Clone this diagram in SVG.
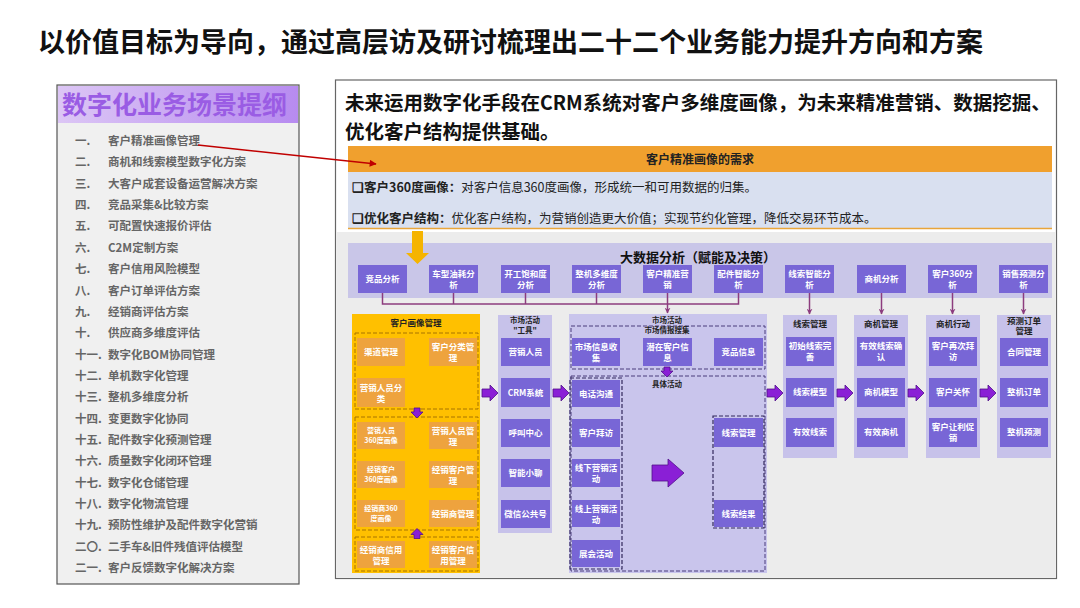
<svg xmlns="http://www.w3.org/2000/svg" width="1080" height="608" viewBox="0 0 1080 608">
<defs>
<style>
text{font-family:"Noto Sans CJK SC","Noto Sans CJK JP",sans-serif}
.li{font-size:11.5px;font-weight:bold;fill:#666}
.w{fill:#fff;font-size:8.5px;font-weight:bold;text-anchor:middle}
.ws{fill:#fff;font-size:7px;font-weight:bold;text-anchor:middle}
.ct{fill:#222;font-size:8.5px;font-weight:bold;text-anchor:middle}
.cs{fill:#222;font-size:7.5px;font-weight:bold;text-anchor:middle}
.pb{fill:#7866d6}
.ob{fill:#eea33e}
.lav{fill:#c7c2ea}
.dsh{fill:none;stroke:#4a3c7c;stroke-width:1;stroke-dasharray:4 2}
.ydsh{fill:none;stroke:#a87400;stroke-width:1;stroke-dasharray:4 2}
.conn{fill:none;stroke:#8c3c7e;stroke-width:1.5}
.blk{fill:#8a1fd6;stroke:#50108a;stroke-width:0.8}
</style>
<linearGradient id="hg" x1="0" y1="0" x2="1" y2="0">
<stop offset="0" stop-color="#dcc6f5"/>
<stop offset="1" stop-color="#b78bf0"/>
</linearGradient>
<marker id="ah" viewBox="0 0 10 10" refX="9" refY="5" markerWidth="6" markerHeight="6" orient="auto" markerUnits="userSpaceOnUse">
<path d="M0,0 L10,5 L0,10 L3,5 Z" fill="#8c3c7e"/>
</marker>
<marker id="rh" viewBox="0 0 10 10" refX="9" refY="5" markerWidth="9" markerHeight="7" orient="auto" markerUnits="userSpaceOnUse">
<path d="M0,0 L10,5 L0,10 Z" fill="#c00000"/>
</marker>
<path id="br" class="blk" d="M-8,-4 H0 V-8 L8,0 L0,8 V4 H-8 Z"/>
<path id="bd" class="blk" d="M-3,-5 H3 V-1 H6 L0,5 L-6,-1 H-3 Z"/>
</defs>

<rect width="1080" height="608" fill="#fff"/>

<text x="38" y="52" font-size="27" font-weight="bold" fill="#111">以价值目标为导向，通过高层访及研讨梳理出二十二个业务能力提升方向和方案</text>

<g id="outline">
<rect x="57" y="85" width="242" height="499" fill="#f0f0f0" stroke="#555" stroke-width="1.2"/>
<rect x="58" y="86" width="240" height="37" fill="url(#hg)"/>
<text x="62" y="114" font-size="25" font-weight="bold" fill="#9a5ce4">数字化业务场景提纲</text>
<text class="li" y="145"><tspan x="75">一.</tspan><tspan x="108">客户精准画像管理</tspan></text>
<text class="li" y="166.4"><tspan x="75">二.</tspan><tspan x="108">商机和线索模型数字化方案</tspan></text>
<text class="li" y="187.7"><tspan x="75">三.</tspan><tspan x="108">大客户成套设备运营解决方案</tspan></text>
<text class="li" y="209.1"><tspan x="75">四.</tspan><tspan x="108">竞品采集&amp;比较方案</tspan></text>
<text class="li" y="230.4"><tspan x="75">五.</tspan><tspan x="108">可配置快速报价评估</tspan></text>
<text class="li" y="251.8"><tspan x="75">六.</tspan><tspan x="108">C2M定制方案</tspan></text>
<text class="li" y="273.1"><tspan x="75">七.</tspan><tspan x="108">客户信用风险模型</tspan></text>
<text class="li" y="294.5"><tspan x="75">八.</tspan><tspan x="108">客户订单评估方案</tspan></text>
<text class="li" y="315.8"><tspan x="75">九.</tspan><tspan x="108">经销商评估方案</tspan></text>
<text class="li" y="337.2"><tspan x="75">十.</tspan><tspan x="108">供应商多维度评估</tspan></text>
<text class="li" y="358.5"><tspan x="75">十一.</tspan><tspan x="108">数字化BOM协同管理</tspan></text>
<text class="li" y="379.9"><tspan x="75">十二.</tspan><tspan x="108">单机数字化管理</tspan></text>
<text class="li" y="401.2"><tspan x="75">十三.</tspan><tspan x="108">整机多维度分析</tspan></text>
<text class="li" y="422.6"><tspan x="75">十四.</tspan><tspan x="108">变更数字化协同</tspan></text>
<text class="li" y="443.9"><tspan x="75">十五.</tspan><tspan x="108">配件数字化预测管理</tspan></text>
<text class="li" y="465.3"><tspan x="75">十六.</tspan><tspan x="108">质量数字化闭环管理</tspan></text>
<text class="li" y="486.6"><tspan x="75">十七.</tspan><tspan x="108">数字化仓储管理</tspan></text>
<text class="li" y="508"><tspan x="75">十八.</tspan><tspan x="108">数字化物流管理</tspan></text>
<text class="li" y="529.3"><tspan x="75">十九.</tspan><tspan x="108">预防性维护及配件数字化营销</tspan></text>
<text class="li" y="550.7"><tspan x="75">二〇.</tspan><tspan x="108">二手车&amp;旧件残值评估模型</tspan></text>
<text class="li" y="572"><tspan x="75">二一.</tspan><tspan x="108">客户反馈数字化解决方案</tspan></text>
</g>

<g id="panel">
<rect x="335.5" y="80" width="721" height="498.5" fill="#fff" stroke="#666" stroke-width="1.2"/>
<rect x="336.5" y="232" width="719" height="345.5" fill="#ececec"/>
<text x="345" y="110" font-size="19.5" font-weight="bold" fill="#111">未来运用数字化手段在CRM系统对客户多维度画像，为未来精准营销、数据挖掘、</text>
<text x="345" y="138.5" font-size="19.5" font-weight="bold" fill="#111">优化客户结构提供基础。</text>
</g>

<g id="demand">
<rect x="348" y="146" width="704" height="26" fill="#f0a02e"/>
<text x="700" y="163.5" font-size="12" font-weight="bold" fill="#222" text-anchor="middle">客户精准画像的需求</text>
<rect x="348" y="172" width="704" height="56" fill="#d9e0f0"/>
<line x1="348" y1="228.5" x2="1052" y2="228.5" stroke="#e9a53a" stroke-width="1.5"/>
<text x="352" y="192" font-size="12.5" fill="#222"><tspan font-weight="bold">❑客户360度画像：</tspan>对客户信息360度画像，形成统一和可用数据的归集。</text>
<text x="352" y="223" font-size="12.5" fill="#222"><tspan font-weight="bold">❑优化客户结构：</tspan>优化客户结构，为营销创造更大价值；实现节约化管理，降低交易环节成本。</text>
</g>

<g id="bigdata">
<rect x="348" y="243" width="704" height="55" fill="#c9c6e8"/>
<text x="698" y="261.5" font-size="13" font-weight="bold" fill="#111" text-anchor="middle">大数据分析（赋能及决策）</text>
</g>

<g id="yellow-arrow">
<path d="M412,231 H423 V253 H429 L417.5,264 L406,253 H412 Z" fill="#f5b400"/>
</g>

<g id="analysis">
<g id="a1"><rect class="pb" x="358" y="265" width="49" height="28"/><text class="w" x="382.5" y="282">竞品分析</text></g>
<g id="a2"><rect class="pb" x="429" y="265" width="49" height="28"/><text class="w" x="453.5" y="277">车型油耗分<tspan x="453.5" dy="11">析</tspan></text></g>
<g id="a3"><rect class="pb" x="501" y="265" width="49" height="28"/><text class="w" x="525.5" y="277">开工饱和度<tspan x="525.5" dy="11">分析</tspan></text></g>
<g id="a4"><rect class="pb" x="572" y="265" width="49" height="28"/><text class="w" x="596.5" y="277">整机多维度<tspan x="596.5" dy="11">分析</tspan></text></g>
<g id="a5"><rect class="pb" x="643" y="265" width="49" height="28"/><text class="w" x="667.5" y="277">客户精准营<tspan x="667.5" dy="11">销</tspan></text></g>
<g id="a6"><rect class="pb" x="714" y="265" width="49" height="28"/><text class="w" x="738.5" y="277">配件智能分<tspan x="738.5" dy="11">析</tspan></text></g>
<g id="a7"><rect class="pb" x="785" y="265" width="49" height="28"/><text class="w" x="809.5" y="277">线索智能分<tspan x="809.5" dy="11">析</tspan></text></g>
<g id="a8"><rect class="pb" x="857" y="265" width="49" height="28"/><text class="w" x="881.5" y="282">商机分析</text></g>
<g id="a9"><rect class="pb" x="928" y="265" width="49" height="28"/><text class="w" x="952.5" y="277">客户360分<tspan x="952.5" dy="11">析</tspan></text></g>
<g id="a10"><rect class="pb" x="999" y="265" width="49" height="28"/><text class="w" x="1023.5" y="277">销售预测分<tspan x="1023.5" dy="11">析</tspan></text></g>
</g>

<g id="portrait">
<rect x="352" y="314" width="128" height="259" fill="#ffc000"/>
<text class="ct" x="416" y="326">客户画像管理</text>
<rect class="ydsh" x="355" y="333" width="123" height="76"/>
<rect class="ydsh" x="355" y="417" width="123" height="113"/>
<rect class="ydsh" x="355" y="537" width="123" height="34"/>
<g id="p1"><rect class="ob" x="357" y="338" width="48" height="28"/><text class="w" x="381" y="355">渠道管理</text></g>
<g id="p2"><rect class="ob" x="429" y="338" width="48" height="28"/><text class="w" x="453" y="350">客户分类管<tspan x="453" dy="11">理</tspan></text></g>
<g id="p3"><rect class="ob" x="357" y="378" width="48" height="29"/><text class="w" x="381" y="390.5">营销人员分<tspan x="381" dy="11">类</tspan></text></g>
<g id="p4"><rect class="ob" x="357" y="422" width="48" height="27"/><text class="ws" x="381" y="433">营销人员<tspan x="381" dy="9.5">360度画像</tspan></text></g>
<g id="p5"><rect class="ob" x="429" y="422" width="48" height="27"/><text class="w" x="453" y="433.5">营销人员管<tspan x="453" dy="11">理</tspan></text></g>
<g id="p6"><rect class="ob" x="357" y="461" width="48" height="27"/><text class="ws" x="381" y="472">经销客户<tspan x="381" dy="9.5">360度画像</tspan></text></g>
<g id="p7"><rect class="ob" x="429" y="461" width="48" height="27"/><text class="w" x="453" y="472.5">经销客户管<tspan x="453" dy="11">理</tspan></text></g>
<g id="p8"><rect class="ob" x="357" y="500" width="48" height="27"/><text class="ws" x="381" y="511">经销商360<tspan x="381" dy="9.5">度画像</tspan></text></g>
<g id="p9"><rect class="ob" x="429" y="500" width="48" height="27"/><text class="w" x="453" y="516.5">经销商管理</text></g>
<g id="p10"><rect class="ob" x="357" y="541" width="48" height="27"/><text class="w" x="381" y="552.5">经销商信用<tspan x="381" dy="11">管理</tspan></text></g>
<g id="p11"><rect class="ob" x="429" y="541" width="48" height="27"/><text class="w" x="453" y="552.5">经销客户信<tspan x="453" dy="11">用管理</tspan></text></g>
</g>

<g id="tools">
<rect class="lav" x="498" y="315" width="54" height="218"/>
<text class="cs" x="525" y="323">市场活动</text>
<text class="cs" x="525" y="332.5">"工具"</text>
<g id="t1"><rect class="pb" x="501" y="338" width="49" height="28"/><text class="w" x="525.5" y="355">营销人员</text></g>
<g id="t2"><rect class="pb" x="501" y="378" width="49" height="29"/><text class="w" x="525.5" y="395.5">CRM系统</text></g>
<g id="t3"><rect class="pb" x="501" y="419" width="49" height="28"/><text class="w" x="525.5" y="436">呼叫中心</text></g>
<g id="t4"><rect class="pb" x="501" y="459" width="49" height="28"/><text class="w" x="525.5" y="476">智能小聊</text></g>
<g id="t5"><rect class="pb" x="501" y="500" width="49" height="28"/><text class="w" x="525.5" y="517">微信公共号</text></g>
</g>

<g id="market">
<rect x="569" y="314" width="198" height="259" fill="#c9c5ec"/>
<text class="cs" x="667" y="322.5" font-size="8">市场活动</text>
<rect class="dsh" x="571" y="326" width="194" height="43"/>
<text class="cs" x="667" y="333" font-size="7">市场情报搜集</text>
<g id="m1"><rect class="pb" x="572" y="338" width="48" height="28"/><text class="w" x="596" y="350">市场信息收<tspan x="596" dy="11">集</tspan></text></g>
<g id="m2"><rect class="pb" x="643" y="338" width="49" height="28"/><text class="w" x="667.5" y="350">潜在客户信<tspan x="667.5" dy="11">息</tspan></text></g>
<g id="m3"><rect class="pb" x="714" y="338" width="49" height="28"/><text class="w" x="738.5" y="355">竞品信息</text></g>
<rect class="dsh" x="571" y="376" width="194" height="195"/>
<text class="cs" x="667" y="387">具体活动</text>
<rect x="570" y="378" width="52" height="191" fill="none" stroke="#33295c" stroke-width="1.2" stroke-dasharray="4 2"/>
<g id="m4"><rect class="pb" x="572" y="380" width="48" height="27"/><text class="w" x="596" y="396.5">电话沟通</text></g>
<g id="m5"><rect class="pb" x="572" y="419" width="48" height="28"/><text class="w" x="596" y="436">客户拜访</text></g>
<g id="m6"><rect class="pb" x="572" y="459" width="48" height="28"/><text class="w" x="596" y="471">线下营销活<tspan x="596" dy="11">动</tspan></text></g>
<g id="m7"><rect class="pb" x="572" y="500" width="48" height="27"/><text class="w" x="596" y="511.5">线上营销活<tspan x="596" dy="11">动</tspan></text></g>
<g id="m8"><rect class="pb" x="572" y="540" width="48" height="27"/><text class="w" x="596" y="556.5">展会活动</text></g>
<rect x="713" y="416" width="51" height="112" fill="none" stroke="#33295c" stroke-width="1.2" stroke-dasharray="4 2"/>
<g id="m9"><rect class="pb" x="714" y="418" width="49" height="29"/><text class="w" x="738.5" y="435.5">线索管理</text></g>
<g id="m10"><rect class="pb" x="714" y="500" width="49" height="27"/><text class="w" x="738.5" y="516.5">线索结果</text></g>
</g>

<g id="col-lead">
<rect class="lav" x="783" y="315" width="54" height="143"/>
<text class="ct" x="810" y="327">线索管理</text>
<rect class="pb" x="786" y="337" width="48" height="29"/><text class="w" x="810" y="349">初始线索完<tspan x="810" dy="11">善</tspan></text>
<rect class="pb" x="786" y="378" width="48" height="29"/><text class="w" x="810" y="395">线索模型</text>
<rect class="pb" x="786" y="418" width="48" height="29"/><text class="w" x="810" y="435">有效线索</text>
</g>
<g id="col-opp">
<rect class="lav" x="854" y="315" width="54" height="143"/>
<text class="ct" x="881" y="327">商机管理</text>
<rect class="pb" x="857" y="337" width="48" height="29"/><text class="w" x="881" y="349">有效线索确<tspan x="881" dy="11">认</tspan></text>
<rect class="pb" x="857" y="378" width="48" height="29"/><text class="w" x="881" y="395">商机模型</text>
<rect class="pb" x="857" y="418" width="48" height="29"/><text class="w" x="881" y="435">有效商机</text>
</g>
<g id="col-act">
<rect class="lav" x="926" y="315" width="54" height="143"/>
<text class="ct" x="953" y="327">商机行动</text>
<rect class="pb" x="929" y="337" width="48" height="29"/><text class="w" x="953" y="349">客户再次拜<tspan x="953" dy="11">访</tspan></text>
<rect class="pb" x="929" y="378" width="48" height="29"/><text class="w" x="953" y="395">客户关怀</text>
<rect class="pb" x="929" y="418" width="48" height="29"/><text class="w" x="953" y="430">客户让利促<tspan x="953" dy="11">销</tspan></text>
</g>
<g id="col-order">
<rect class="lav" x="997" y="315" width="54" height="143"/>
<text class="ct" x="1024" y="323.5">预测订单</text>
<text class="ct" x="1024" y="334">管理</text>
<rect class="pb" x="1000" y="338" width="48" height="28"/><text class="w" x="1024" y="355">合同管理</text>
<rect class="pb" x="1000" y="378" width="48" height="29"/><text class="w" x="1024" y="395">整机订单</text>
<rect class="pb" x="1000" y="418" width="48" height="29"/><text class="w" x="1024" y="435">整机预测</text>
</g>

<g id="connectors">
<line x1="198" y1="145" x2="376" y2="164" stroke="#c00000" stroke-width="1.6" marker-end="url(#rh)"/>
<path class="conn" d="M382.5,293 V304 H738.5 V293 M453.5,293 V304 M525.5,293 V304 M596.5,293 V304"/>
<path class="conn" d="M667.5,293 V313" marker-end="url(#ah)"/>
<path class="conn" d="M809.5,293 V314" marker-end="url(#ah)"/>
<path class="conn" d="M881.5,293 V314" marker-end="url(#ah)"/>
<path class="conn" d="M952.5,293 V314" marker-end="url(#ah)"/>
<path class="conn" d="M1023.5,293 V314" marker-end="url(#ah)"/>
<use href="#br" x="490" y="393"/>
<use href="#br" x="561" y="393"/>
<use href="#br" x="775" y="393"/>
<use href="#br" x="845" y="393"/>
<use href="#br" x="916" y="393"/>
<use href="#br" x="988" y="393"/>
<use href="#bd" x="417" y="413"/>
<use href="#bd" x="417" y="533.5" transform="rotate(180 417 533.5)"/>
<use href="#bd" x="667" y="372"/>
<path class="blk" d="M652,465 H668 V459 L684,473 L668,487 V481 H652 Z"/>
</g>
</svg>
